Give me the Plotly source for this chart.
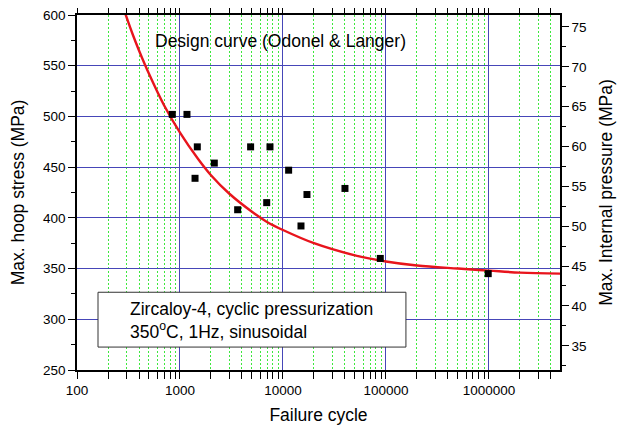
import plotly.graph_objects as go

# Experimental data (failure cycles, max hoop stress MPa)
exp_cycles = [842, 1169, 1473, 2154, 1400, 3630, 4850, 6950, 7480, 11350, 14960, 17100, 40000]
exp_stress = [502, 502, 470, 454, 439, 408, 470, 415, 470, 447, 392, 423, 429]

# Run-out points (no failure, arrows)
runout_cycles = [88100, 984000]
runout_stress = [360, 345]

# Design curve (Odonel & Langer)
curve_cycles = [286, 350, 400, 500, 700, 1000, 1500, 2000, 3000, 5000, 7000, 10000,
                20000, 50000, 100000, 200000, 500000, 1000000, 2000000, 5000000]
curve_stress = [605, 580, 565, 542, 511, 484, 458, 442, 424, 406, 396, 388,
                375, 363, 357, 353, 350, 348, 346, 345]

x_ticks = [100, 1000, 10000, 100000, 1000000]
x_ticklabels = ["100", "1000", "10000", "100000", "1000000"]

FONT = "Liberation Sans, Arial, sans-serif"
BLUE = "#4646b8"
GREEN = "#3ee83e"

fig = go.Figure()
fig.add_trace(go.Scatter(x=curve_cycles, y=curve_stress, mode="lines",
                         line=dict(color="#e8141c", width=2.4, shape="spline"),
                         showlegend=False))
fig.add_trace(go.Scatter(x=exp_cycles, y=exp_stress, mode="markers",
                         marker=dict(symbol="square", size=7, color="black"),
                         showlegend=False))
fig.add_trace(go.Scatter(x=runout_cycles, y=runout_stress, mode="markers",
                         marker=dict(symbol="square", size=7, color="black"),
                         showlegend=False))
fig.add_trace(go.Scatter(x=[None], y=[None], yaxis="y2", showlegend=False))

for cx, cy in zip(runout_cycles, runout_stress):
    fig.add_annotation(x=cx, y=cy, xref="x", yref="y", text="", showarrow=True,
                       ax=-14, ay=0, xshift=17, arrowhead=2, arrowsize=1.1,
                       arrowwidth=1.3, arrowcolor="black")

fig.add_annotation(x=0.157, y=0.927, xref="paper", yref="paper", xanchor="left",
                   yanchor="middle", showarrow=False,
                   text="Design curve (Odonel & Langer)",
                   font=dict(family=FONT, size=17.5, color="black"))

# text box
fig.add_shape(type="rect", xref="paper", yref="paper", x0=0.0435, x1=0.681,
              y0=0.0646, y1=0.219, line=dict(color="#333333", width=1),
              fillcolor="white", layer="above")
fig.add_annotation(x=0.1056, y=0.140, xref="paper", yref="paper", xanchor="left",
                   yanchor="middle", showarrow=False, align="left",
                   text="Zircaloy-4, cyclic pressurization<br>350<sup>o</sup>C, 1Hz, sinusoidal",
                   font=dict(family=FONT, size=17.5, color="black"))

fig.update_layout(
    width=617, height=419,
    margin=dict(l=69, r=65, t=7, b=57),
    paper_bgcolor="white", plot_bgcolor="white",
    font=dict(family=FONT, size=13.5, color="black"),
    xaxis=dict(type="log", range=[2, 6.69], tickvals=x_ticks, ticktext=x_ticklabels,
               showline=True, linecolor="black", linewidth=1.5, mirror="allticks",
               ticks="outside", ticklen=7, tickcolor="black", tickwidth=1.2,
               showgrid=True, gridcolor=BLUE, gridwidth=1, automargin=False,
               ticklabeloverflow="allow",
               minor=dict(dtick="D1", ticks="outside", ticklen=4, tickcolor="black",
                          showgrid=True, gridcolor=GREEN, griddash="2px,2px", gridwidth=0.9),
               title=dict(text="Failure cycle", font=dict(size=17.5), standoff=12),
               zeroline=False),
    yaxis=dict(range=[250, 600], dtick=50, showline=True, linecolor="black", linewidth=1.5,
               ticks="outside", ticklen=7, tickcolor="black", tickwidth=1.2,
               showgrid=True, gridcolor=BLUE, gridwidth=1, automargin=False,
               ticklabeloverflow="allow",
               minor=dict(dtick=25, ticks="outside", ticklen=4, tickcolor="black"),
               title=dict(text="Max. hoop stress (MPa)", font=dict(size=17.5), standoff=14),
               zeroline=False),
    yaxis2=dict(range=[31.96, 76.5], dtick=5, overlaying="y", side="right",
                showline=True, linecolor="black", linewidth=1.5, automargin=False,
                ticklabeloverflow="allow",
                ticks="outside", ticklen=7, tickcolor="black", tickwidth=1.2, showgrid=False,
                minor=dict(dtick=2.5, ticks="outside", ticklen=4, tickcolor="black"),
                title=dict(text="Max. Internal pressure (MPa)", font=dict(size=17.5), standoff=14),
                zeroline=False),
)

fig.write_html("out.html")
